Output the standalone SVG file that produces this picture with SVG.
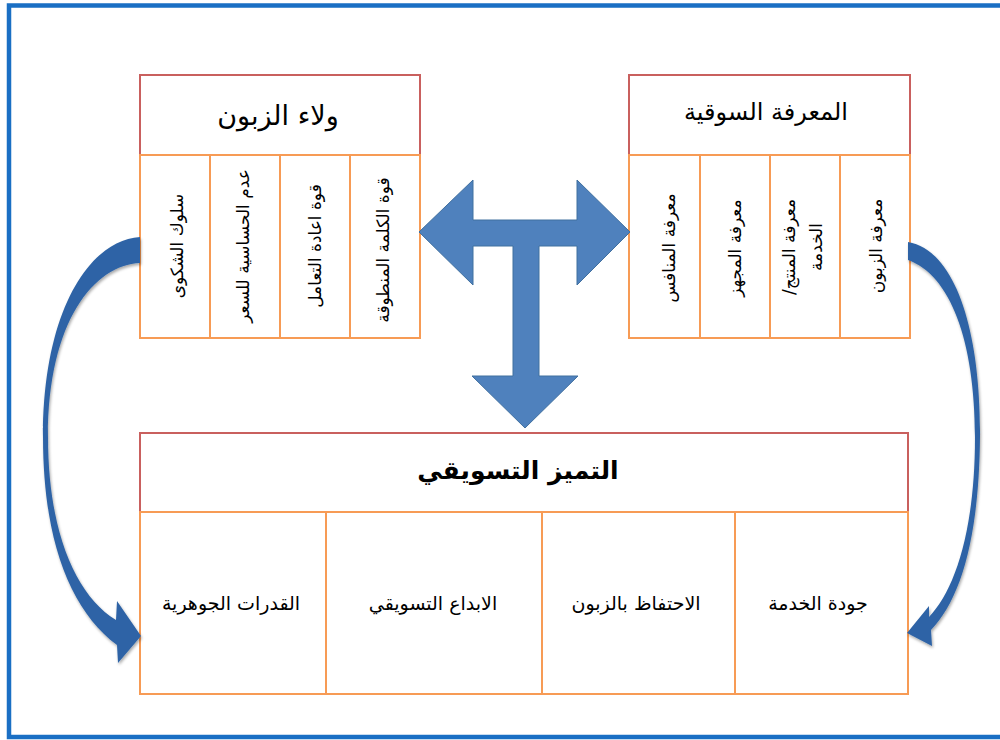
<svg xmlns="http://www.w3.org/2000/svg" width="1000" height="740" viewBox="0 0 1000 740">
<defs>
<style>
.hdr{fill:#fff;stroke:#C9605E;stroke-width:2}
.col{fill:#fff;stroke:#F79B55;stroke-width:2}
.t{font-family:"DejaVu Sans","Noto Sans",sans-serif;fill:#000;text-anchor:middle;dominant-baseline:central;direction:rtl;unicode-bidi:embed}
.v{font-size:17px}
.b{font-size:19px}
.title{font-size:25px;font-weight:bold}
.curve{fill:#2F64A6;filter:url(#sh)}
.tarrow{fill:#4F81BD;stroke:#41709F;stroke-width:1}
</style>
<filter id="sh" x="-20%" y="-10%" width="140%" height="120%">
<feGaussianBlur in="SourceAlpha" stdDeviation="1.5"/>
<feOffset dx="1" dy="1.5" result="o"/>
<feComponentTransfer><feFuncA type="linear" slope="0.35"/></feComponentTransfer>
<feMerge><feMergeNode/><feMergeNode in="SourceGraphic"/></feMerge>
</filter>
</defs>
<rect x="0" y="0" width="1000" height="740" fill="#fff"/>
<rect x="9" y="5.5" width="1000" height="731.5" fill="none" stroke="#1A6FC4" stroke-width="4.5"/>

<g id="loyalty">
<rect class="hdr" x="140" y="75" width="280" height="80"/>
<text class="t" x="278" y="115" font-size="27">ولاء الزبون</text>
<rect class="col" x="140" y="155" width="70" height="183"/>
<rect class="col" x="210" y="155" width="70" height="183"/>
<rect class="col" x="280" y="155" width="70" height="183"/>
<rect class="col" x="350" y="155" width="70" height="183"/>
<text class="t v" transform="translate(177,246) rotate(-90)">سلوك الشكوى</text>
<text class="t v" transform="translate(243,246) rotate(-90)">عدم الحساسية للسعر</text>
<text class="t v" transform="translate(315,246) rotate(-90)">قوة اعادة التعامل</text>
<text class="t v" transform="translate(383,250) rotate(-90)">قوة الكلمة المنطوقة</text>
</g>

<g id="knowledge">
<rect class="hdr" x="629" y="75" width="281" height="80"/>
<text class="t" x="766" y="112" font-size="24">المعرفة السوقية</text>
<rect class="col" x="629" y="155" width="71" height="183"/>
<rect class="col" x="700" y="155" width="70" height="183"/>
<rect class="col" x="770" y="155" width="70" height="183"/>
<rect class="col" x="840" y="155" width="70" height="183"/>
<text class="t v" transform="translate(669,248) rotate(-90)">معرفة المنافس</text>
<text class="t v" transform="translate(735,248) rotate(-90)">معرفة المجهز</text>
<text class="t v" transform="translate(789,247) rotate(-90)">معرفة المنتج/</text>
<text class="t v" transform="translate(816,247) rotate(-90)">الخدمة</text>
<text class="t v" transform="translate(876,246) rotate(-90)">معرفة الزبون</text>
</g>

<g id="excellence">
<rect class="hdr" x="140" y="433" width="768" height="79"/>
<text class="t title" x="518" y="470">التميز التسويقي</text>
<rect class="col" x="140" y="512" width="186" height="182"/>
<rect class="col" x="326" y="512" width="216" height="182"/>
<rect class="col" x="542" y="512" width="193" height="182"/>
<rect class="col" x="735" y="512" width="173" height="182"/>
<text class="t b" x="231" y="603">القدرات الجوهرية</text>
<text class="t b" x="433" y="603">الابداع التسويقي</text>
<text class="t b" x="636" y="603">الاحتفاظ بالزبون</text>
<text class="t b" x="818" y="603">جودة الخدمة</text>
</g>

<g id="connectors">
<path class="tarrow" d="M419,232 L473,180 L473,220 L577,220 L577,180 L630,232 L577,285 L577,246 L539,246 L539,376 L578,376 L525,428 L472,376 L513,376 L513,246 L473,246 L473,285 Z"/>
<path class="curve" d="M140,237 C90,240 43,310 43,437 C43,540 70,610 117,645 L118,663 L141,636 L117,601 L116,620 C75,595 48,530 48,437 C48,320 95,265 140,263 Z"/>
<path class="curve" d="M908,242 C955,250 981,330 980,437 C979,540 960,600 931,630 L932,646 L907,633 L929,606 L929,617 C955,590 975,530 975,437 C975,340 950,275 908,260 Z"/>
</g>
</svg>
